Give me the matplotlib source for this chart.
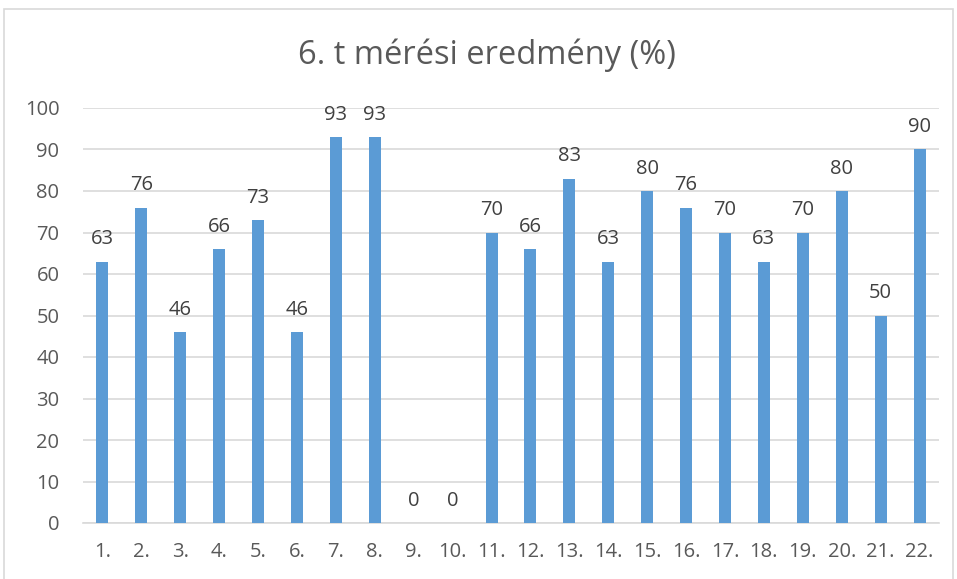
import matplotlib.pyplot as plt
from matplotlib.patches import Rectangle

# adatok
labels = [f"{i}." for i in range(1, 23)]
values = [63, 76, 46, 66, 73, 46, 93, 93, 0, 0, 70, 66, 83, 63, 80, 76, 70, 63, 70, 80, 50, 90]

plt.rcParams['font.family'] = ['Open Sans', 'DejaVu Sans']

fig = plt.figure(figsize=(9.57, 5.79), dpi=100)
ax = fig.add_axes([83 / 957, 1 - 523 / 579, (939 - 83) / 957, (523 - 108) / 579])

# chart frame
fig.patches.append(Rectangle((4 / 957, -0.05), (953 - 4) / 957, 1.05 - 9 / 579,
                             transform=fig.transFigure, fill=False,
                             edgecolor="#d9d9d9", linewidth=1.2))

x = list(range(len(values)))
ax.bar(x, values, width=0.31, color="#5b9bd5", zorder=3)
for xi, v in zip(x, values):
    ax.text(xi, v + 3.0, str(v), ha="center", va="bottom", fontsize=14.5, color="#404040")

ax.set_xlim(-0.5, len(values) - 0.5)
ax.set_ylim(0, 100)
ax.set_yticks(range(0, 101, 10))
ax.set_xticks(x)
ax.set_xticklabels(labels)
ax.tick_params(axis="both", length=0, labelsize=14.5, labelcolor="#595959")
ax.tick_params(axis="x", pad=14)
ax.tick_params(axis="y", pad=17)
ax.grid(axis="y", color="#d9d9d9", linewidth=1.2, zorder=0)
for s in ["top", "right", "left"]:
    ax.spines[s].set_visible(False)
ax.spines["bottom"].set_color("#d9d9d9")
ax.spines["bottom"].set_linewidth(1.2)

fig.text(487 / 957, 1 - 55 / 579, "6. t mérési eredmény (%)", ha="center", va="center",
         fontsize=23.5, color="#595959")

fig.savefig("out.png", dpi=100)
